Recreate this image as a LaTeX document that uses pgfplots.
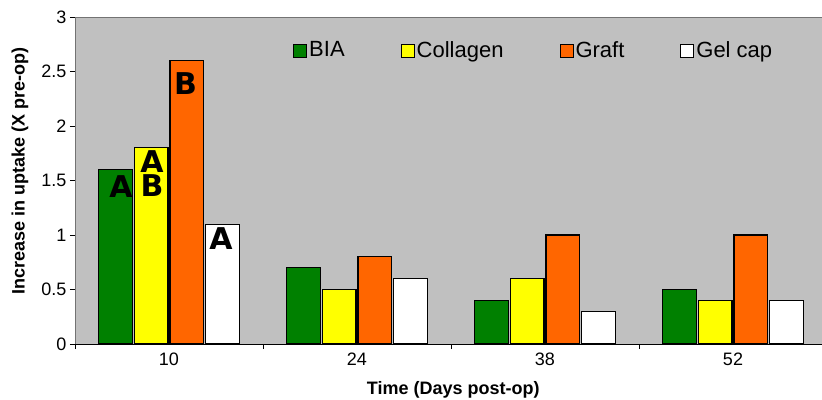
\documentclass[border=0pt]{standalone}
\usepackage{fontspec}
\setmainfont{Liberation Sans}
\newfontfamily\letterfont{DejaVu Sans}
\usepackage{pgfplots}
\pgfplotsset{compat=1.18}
\definecolor{bgray}{HTML}{C0C0C0}
\definecolor{cgreen}{HTML}{008000}
\definecolor{cyellow}{HTML}{FFFF00}
\definecolor{corange}{HTML}{FF6600}
\begin{document}
\begin{tikzpicture}
\begin{axis}[
  scale only axis,
  width=752bp, height=327bp,
  xmin=-0.5, xmax=3.5, ymin=0, ymax=3,
  ybar, bar width=0.179,
  axis background/.style={fill=bgray},
  axis line style={draw=black!55, line width=0.9pt},
  xtick={0,1,2,3}, xticklabels={10,24,38,52},
  minor xtick={-0.5,0.5,1.5,2.5,3.5},
  major x tick style={draw=none},
  minor x tick style={draw=black, line width=0.8pt},
  minor tick length=5bp,
  ytick={0,0.5,...,3},
  yticklabels={0,0.5,1,1.5,2,2.5,3},
  major y tick style={draw=black, line width=0.8pt},
  major tick length=5bp,
  tick align=outside, tick pos=left,
  ticklabel style={font=\fontsize{18bp}{20bp}\selectfont},
  /pgf/number format/assume math mode=true,
  every axis x label/.style={at={([yshift=-46bp]axis description cs:0.503,0)}, anchor=center},
  every axis y label/.style={at={([xshift=-55bp]axis description cs:0,0.529)}, rotate=90, anchor=center},
  label style={font=\bfseries\fontsize{18bp}{20bp}\selectfont},
  xlabel={Time (Days post-op)},
  ylabel={Increase in uptake (X pre-op)},
  legend style={at={(axis description cs:0.286,0.899)}, anchor=west, draw=none, fill=none,
    font=\fontsize{22bp}{24bp}\selectfont, column sep=0bp,
    /tikz/every even column/.append style={column sep=54bp}},
  legend columns=4,
  legend image code/.code={\draw[#1,draw=black,line width=1pt] (0bp,-7bp) rectangle (13bp,6bp);},
  every axis plot/.append style={draw=black, line width=1.2pt},
  clip=false,
]
\addplot[fill=cgreen] coordinates {(0,1.6) (1,0.7) (2,0.4) (3,0.5)};
\addplot[fill=cyellow] coordinates {(0,1.8) (1,0.5) (2,0.6) (3,0.4)};
\addplot[fill=corange] coordinates {(0,2.6) (1,0.8) (2,1.0) (3,1.0)};
\addplot[fill=white] coordinates {(0,1.1) (1,0.6) (2,0.3) (3,0.4)};
\legend{BIA,Collagen,Graft,Gel cap}
\begin{scope}[every node/.style={font=\letterfont\bfseries\fontsize{30bp}{30bp}\selectfont, inner sep=0pt}]
\node at (axis cs:-0.255,1.44) {A};
\node[align=center, font=\letterfont\bfseries\fontsize{30bp}{23.5bp}\selectfont] at (axis cs:-0.09,1.565) {A\\B};
\node at (axis cs:0.088,2.39) {B};
\node at (axis cs:0.277,0.97) {A};
\end{scope}
\end{axis}
\draw[black, line width=0.9pt] (current axis.south west) -- (current axis.south east);
\pgfresetboundingbox
\path ([shift={(-75bp,-56bp)}]current axis.south west) rectangle ([shift={(747bp,17bp)}]current axis.north west);
\end{tikzpicture}
\end{document}
